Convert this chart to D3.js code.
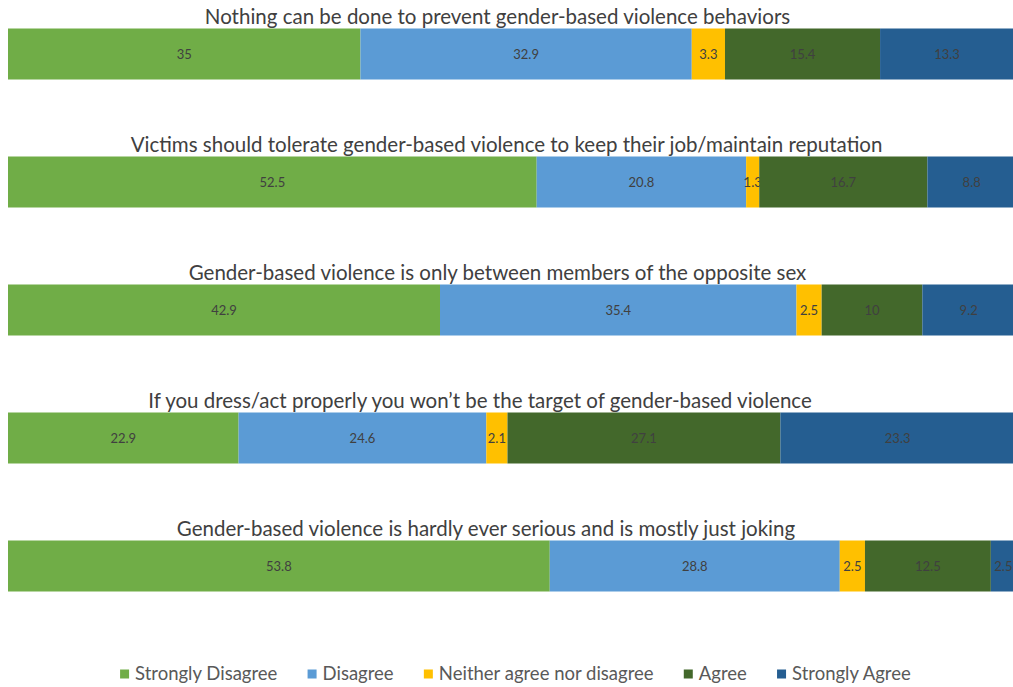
<!DOCTYPE html>
<html>
<head>
<meta charset="utf-8">
<script src="https://cdn.jsdelivr.net/npm/d3@7"></script>
<style>
  html, body { margin: 0; padding: 0; background: #fff; }
  svg { display: block; font-family: Lato, "Open Sans", sans-serif; }
</style>
</head>
<body>
<svg id="chart" width="1013" height="687"></svg>
<script>
// Survey statements (one stacked bar each)
const statements = [
  "Nothing can be done to prevent gender-based violence behaviors",
  "Victims should tolerate gender-based violence to keep their job/maintain reputation",
  "Gender-based violence is only between members of the opposite sex",
  "If you dress/act properly you won\u2019t be the target of gender-based violence",
  "Gender-based violence is hardly ever serious and is mostly just joking"
];

// Response categories
const responses = ["Strongly Disagree", "Disagree", "Neither agree nor disagree", "Agree", "Strongly Agree"];
const colors = ["#70AD47", "#5B9BD5", "#FFC000", "#43682B", "#255E91"];

// Percentages per response, ordered like `statements`
const stronglyDisagree = [35, 52.5, 42.9, 22.9, 53.8];
const disagree = [32.9, 20.8, 35.4, 24.6, 28.8];
const neither = [3.3, 1.3, 2.5, 2.1, 2.5];
const agree = [15.4, 16.7, 10, 27.1, 12.5];
const stronglyAgree = [13.3, 8.8, 9.2, 23.3, 2.5];

const seriesValues = [stronglyDisagree, disagree, neither, agree, stronglyAgree];

const rows = statements.map((s, i) => {
  const r = { statement: s };
  responses.forEach((k, j) => { r[k] = seriesValues[j][i]; });
  return r;
});

const svg = d3.select("#chart");

const x = d3.scaleLinear().domain([0, 100]).range([8, 1015]);
const y = d3.scaleBand().domain(d3.range(statements.length)).range([0, 640]).paddingInner(0);

const rowTop = 28.5;
const barH = 51;
// horizontal centre of each panel title
const titleCentres = [497.5, 506.5, 497.5, 480, 486];

const stack = d3.stack().keys(responses);
const layers = stack(rows);

const g = svg.append("g");

// Statement titles
g.selectAll("text.title")
  .data(statements)
  .join("text")
  .attr("class", "title")
  .attr("x", (d, i) => titleCentres[i])
  .attr("y", (d, i) => y(i) + rowTop - 5)
  .attr("text-anchor", "middle")
  .attr("font-size", 20.5)
  .attr("fill", "#404040")
  .text(d => d);

// Stacked segments
const layerG = g.selectAll("g.layer")
  .data(layers)
  .join("g")
  .attr("class", "layer")
  .attr("fill", (d, i) => colors[i]);

layerG.selectAll("rect")
  .data(d => d.map((p, i) => ({ p, i })))
  .join("rect")
  .attr("x", d => x(d.p[0]))
  .attr("width", d => x(d.p[1]) - x(d.p[0]))
  .attr("y", d => y(d.i) + rowTop)
  .attr("height", barH);

// Value labels
layerG.selectAll("text")
  .data((d) => d.map((p, i) => ({ p, i, key: d.key })))
  .join("text")
  .attr("x", d => (x(d.p[0]) + x(d.p[1])) / 2)
  .attr("y", d => y(d.i) + rowTop + barH / 2)
  .attr("dy", "0.35em")
  .attr("text-anchor", "middle")
  .attr("font-size", 13)
  .attr("fill", "#404040")
  .text(d => d.p.data[d.key]);

// Legend
const legend = svg.append("g").attr("transform", "translate(0,674)");
const items = legend.selectAll("g")
  .data(responses)
  .join("g");
items.append("rect")
  .attr("width", 9).attr("height", 9)
  .attr("y", -4.5)
  .attr("fill", (d, i) => colors[i]);
items.append("text")
  .attr("x", 15)
  .attr("dy", "0.35em")
  .attr("font-size", 18.5)
  .attr("fill", "#595959")
  .text(d => d);

const widths = [];
items.each(function () { widths.push(this.getBBox().width); });
const gap = 30;
const total = d3.sum(widths) + gap * (widths.length - 1);
let cx = 515.5 - total / 2;
items.attr("transform", (d, i) => {
  const t = `translate(${cx},0)`;
  cx += widths[i] + gap;
  return t;
});
</script>
</body>
</html>
